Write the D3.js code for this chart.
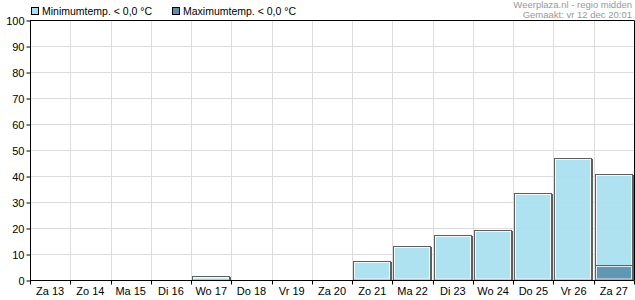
<!DOCTYPE html>
<html>
<head>
<meta charset="utf-8">
<script src="https://cdn.jsdelivr.net/npm/d3@7"></script>
<style>
  body { margin: 0; background: #fff; }
  text { font-family: Arial, "Liberation Sans", sans-serif; }
</style>
</head>
<body>
<svg id="chart" width="635" height="300"></svg>
<script>
// dagen en kansen (%)
var days = ["Za 13", "Zo 14", "Ma 15", "Di 16", "Wo 17", "Do 18", "Vr 19", "Za 20",
            "Zo 21", "Ma 22", "Di 23", "Wo 24", "Do 25", "Vr 26", "Za 27"]
var minTemp = [0, 0, 0, 0, 1.5, 0, 0, 0, 7.5, 13.2, 17.4, 19.3, 33.3, 46.8, 40.9]
var maxTemp = [0, 0, 0, 0, 0, 0, 0, 0, 0, 0, 0, 0, 0, 0, 5.8]
var yTicks = [0, 10, 20, 30, 40, 50, 60, 70, 80, 90, 100]

// plotgebied (geen "top" gebruiken, dat is window.top)
var plotL = 30, plotR = 634, plotT = 20, plotB = 280

var svg = d3.select("#chart")

var x = d3.scaleBand().domain(days).range([plotL, plotR]).padding(0)
var y = d3.scaleLinear().domain([0, 100]).range([plotB, plotT])

// grid
svg.append("g").selectAll("line")
  .data(yTicks.slice(1, -1))
  .enter().append("line")
  .attr("x1", plotL).attr("x2", plotR)
  .attr("y1", function(d) { return Math.round(y(d)) + 0.5 })
  .attr("y2", function(d) { return Math.round(y(d)) + 0.5 })
  .attr("stroke", "#dcdcdc")

svg.append("g").selectAll("line")
  .data(days.slice(1))
  .enter().append("line")
  .attr("x1", function(d) { return Math.round(x(d)) + 0.5 })
  .attr("x2", function(d) { return Math.round(x(d)) + 0.5 })
  .attr("y1", plotT).attr("y2", plotB)
  .attr("stroke", "#dcdcdc")

// staven
function bars(values, fill) {
  var data = values.map(function(v, i) { return { day: days[i], v: v } })
    .filter(function(d) { return d.v > 0 })
  var g = svg.append("g").selectAll("g").data(data).enter().append("g")
  var bw = Math.round(x.bandwidth())
  g.append("rect")
    .attr("x", function(d) { return Math.round(x(d.day)) + 1.5 })
    .attr("y", function(d) { return Math.round(y(d.v)) + 0.5 })
    .attr("width", bw - 3)
    .attr("height", function(d) { return plotB - Math.round(y(d.v)) - 0.5 })
    .attr("fill", fill)
    .attr("fill-opacity", 0.92)
    .attr("stroke", "#5f5f5f")
  // schaduw rechts
  g.append("line")
    .attr("x1", function(d) { return Math.round(x(d.day)) + bw - 0.5 })
    .attr("x2", function(d) { return Math.round(x(d.day)) + bw - 0.5 })
    .attr("y1", function(d) { return Math.round(y(d.v)) + 1 })
    .attr("y2", plotB)
    .attr("stroke", "#5f5f5f")
  g.append("rect")
    .attr("x", function(d) { return Math.round(x(d.day)) + 2.5 })
    .attr("y", function(d) { return Math.round(y(d.v)) + 1.5 })
    .attr("width", bw - 5)
    .attr("height", function(d) { return Math.max(0, plotB - Math.round(y(d.v)) - 2.5) })
    .attr("fill", "none")
    .attr("stroke", "#ffffff")
    .attr("stroke-opacity", 0.8)
}
bars(minTemp, "#a8dff0")
bars(maxTemp, "#5a90ae")

// kader boven + rechts
svg.append("path")
  .attr("d", "M" + plotL + "," + (plotT + 0.5) + "H" + (plotR + 0.5) + "V" + plotB)
  .attr("fill", "none").attr("stroke", "#000")

// assen
var yAxis = d3.axisLeft(y).tickValues(yTicks).tickSize(4).tickPadding(2)
var gy = svg.append("g")
  .attr("transform", "translate(" + (plotL + 0.5) + ",0.5)")
  .call(yAxis)
gy.selectAll("text").attr("font-size", "11px").attr("fill", "#000").attr("font-family", null)
gy.select(".domain").attr("d", "M0," + plotT + "V" + plotB)

var xAxis = d3.axisBottom(x).tickSize(0).tickPadding(7)
var gx = svg.append("g")
  .attr("transform", "translate(0," + (plotB + 0.5) + ")")
  .call(xAxis)
gx.select(".domain").attr("d", "M" + plotL + ",0H" + (plotR + 0.5))
gx.selectAll("text").attr("font-size", "11px").attr("fill", "#000").attr("font-family", null)
gx.selectAll("line.b")
  .data(days.concat(["end"]))
  .enter().append("line")
  .attr("class", "b")
  .attr("x1", function(d, i) { return Math.round(plotL + i * x.bandwidth()) + 0.5 })
  .attr("x2", function(d, i) { return Math.round(plotL + i * x.bandwidth()) + 0.5 })
  .attr("y1", 0).attr("y2", 4)
  .attr("stroke", "#000")

// legenda
var legend = [{ name: "Minimumtemp. < 0,0 °C", fill: "#a8dff0", x: 31 },
              { name: "Maximumtemp. < 0,0 °C", fill: "#5a90ae", x: 172 }]
var lg = svg.append("g").selectAll("g").data(legend).enter().append("g")
lg.append("rect")
  .attr("x", function(d) { return d.x + 0.5 }).attr("y", 7.5)
  .attr("width", 7).attr("height", 7)
  .attr("fill", function(d) { return d.fill }).attr("stroke", "#000")
lg.append("text")
  .attr("x", function(d) { return d.x + 11 }).attr("y", 15)
  .attr("font-size", "10.5px").text(function(d) { return d.name })

// bron
svg.append("text").attr("x", 632).attr("y", 8).attr("text-anchor", "end")
  .attr("font-size", "9.5px").attr("fill", "#999").text("Weerplaza.nl - regio midden")
svg.append("text").attr("x", 632).attr("y", 18).attr("text-anchor", "end")
  .attr("font-size", "9.5px").attr("fill", "#999").text("Gemaakt: vr 12 dec 20:01")
</script>
</body>
</html>
